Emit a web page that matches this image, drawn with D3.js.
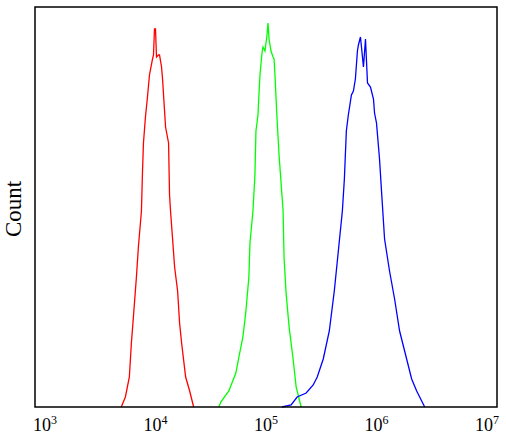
<!DOCTYPE html>
<html>
<head>
<meta charset="utf-8">
<script src="https://cdn.jsdelivr.net/npm/d3@7"></script>
<style>
  body { margin: 0; background: #fff; }
  svg { display: block; }
  .tick-label { font-family: "Liberation Serif", serif; font-size: 18px; fill: #000; }
  .axis-title { font-family: "Liberation Serif", serif; font-size: 23px; fill: #000; }
</style>
</head>
<body>
<div id="main"></div>
<script>
// fluorescence intensity readings (x) and event counts (y)
let redX = [4900, 5340, 5800, 6050, 6310, 6720, 7000, 7460, 7620, 7780, 8110, 8460, 8820, 9400, 9590, 9790,
  10000, 10210, 10650, 10870, 11340, 11580, 12080, 12330, 13130, 13400, 13680, 14280, 14890, 15850, 16520,
  17230, 18740, 20380, 22150];
let redY = [0, 2.5, 7.5, 16, 22.5, 32.5, 40, 49, 58.5, 66, 72.5, 77.5, 83, 87, 88, 94.5,
  94.5, 87.5, 88, 88, 85, 82, 74, 70, 66, 53, 49, 42, 35, 29, 21,
  16, 7.5, 4, 0];

let greenX = [37400, 38990, 46100, 53350, 56860, 61800, 65800, 70000, 71600, 76200, 79400, 81100, 84600,
  86300, 88200, 92000, 93900, 97900, 102100, 104300, 106500, 111000, 115800, 118300, 120800, 125900,
  131300, 136900, 142800, 145800, 152000, 161900, 175900, 187400, 208000];
let greenY = [0, 1.25, 4, 8.5, 12.5, 17.5, 24, 32.5, 41, 49, 58, 69, 73,
  78, 83, 88.5, 90, 89, 93, 96, 92, 89, 87.5, 87, 82.5, 72,
  63, 56, 49, 37, 28.5, 20, 12, 5, 0];

let blueX = [139700, 168800, 191400, 231000, 267300, 290900, 329700, 374000, 415000, 451500, 491000,
  512000, 533500, 556000, 593000, 618000, 644000, 672000, 686000, 716000, 762000, 795000, 829000,
  882000, 939000, 960000, 1000000, 1065000, 1110000, 1183000, 1312000, 1458000, 1618000, 1874000,
  2080000, 2310000, 2460000, 2730000];
let blueY = [0, 0.5, 2.5, 3.5, 5.5, 7.5, 12, 19, 29, 39, 49,
  57, 69, 73, 78, 79, 82, 89, 90.5, 92.5, 85, 92, 81,
  80, 77, 73.5, 71, 62, 54, 42, 34, 27, 19, 12,
  7, 4, 2.5, 0];

let tickExponents = [3, 4, 5, 6, 7];
let yTitle = "Count";

let width = 506;
let height = 440;

let svg = d3.select('#main')
  .append('svg')
  .attr('width', width)
  .attr('height', height);

// the frame is a little wider than the 10^3..10^7 span
let frame = { left: 35, right: 497, top: 7, bottom: 407 };

let x = d3.scaleLog()
  .domain([1e3, 1e7])
  .range([45, 487]);

let y = d3.scaleLinear()
  .domain([0, 100])
  .range([frame.bottom, frame.top]);

let line = d3.line()
  .x(function(d) { return x(d[0]); })
  .y(function(d) { return y(d[1]); });

let series = [
  { xs: redX, ys: redY, color: '#ff0000' },
  { xs: greenX, ys: greenY, color: '#00ff00' },
  { xs: blueX, ys: blueY, color: '#0000ff' }
];

svg.append('g')
  .attr('class', 'curves')
  .selectAll('path')
  .data(series)
  .enter().append('path')
  .attr('fill', 'none')
  .attr('stroke', function(d) { return d.color; })
  .attr('stroke-width', 1.3)
  .attr('stroke-linejoin', 'miter')
  .attr('d', function(d) {
    return line(d.xs.map(function(v, i) { return [v, d.ys[i]]; }));
  });

// plot frame
svg.append('rect')
  .attr('x', frame.left)
  .attr('y', frame.top)
  .attr('width', frame.right - frame.left)
  .attr('height', frame.bottom - frame.top)
  .attr('fill', 'none')
  .attr('stroke', '#000')
  .attr('stroke-width', 1.5);

// tick labels as 10 with superscript exponent, no tick marks
let labels = svg.append('g')
  .selectAll('text')
  .data(tickExponents)
  .enter().append('text')
  .attr('class', 'tick-label')
  .attr('x', function(d) { return x(Math.pow(10, d)); })
  .attr('y', 431)
  .attr('text-anchor', 'middle');

labels.append('tspan').text('10');
labels.append('tspan')
  .attr('dy', -7)
  .style('font-size', '12px')
  .text(function(d) { return d; });

svg.append('text')
  .attr('class', 'axis-title')
  .attr('transform', 'translate(21,209) rotate(-90)')
  .attr('text-anchor', 'middle')
  .text(yTitle);
</script>
</body>
</html>
